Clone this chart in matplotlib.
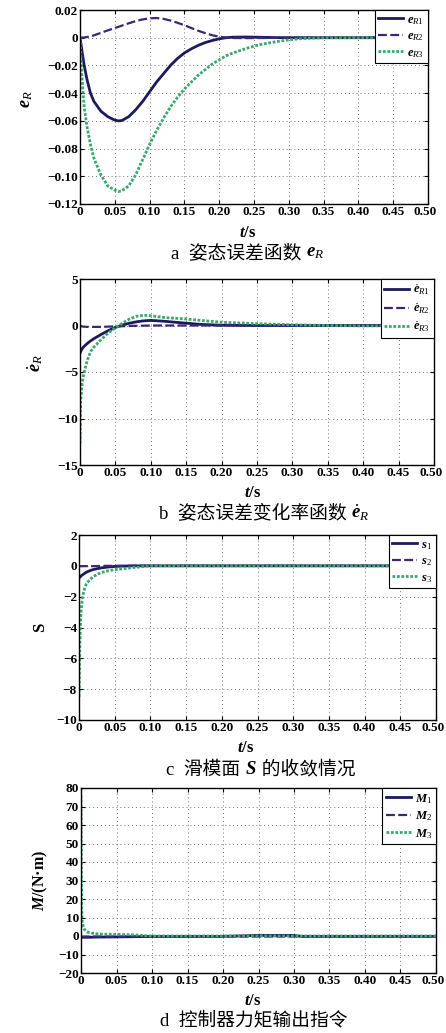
import matplotlib
matplotlib.use('Agg')
import matplotlib.pyplot as plt
from matplotlib.ticker import FixedLocator, FuncFormatter
from matplotlib.transforms import ScaledTranslation

plt.rcParams['font.family'] = ['Liberation Serif', 'Noto Sans CJK SC']
plt.rcParams['mathtext.fontset'] = 'custom'
plt.rcParams['mathtext.rm'] = 'Liberation Serif'
plt.rcParams['mathtext.it'] = 'Liberation Serif:italic'
plt.rcParams['mathtext.bf'] = 'Liberation Serif:italic:bold'

# ---- data ----
# a: attitude error e_R
t_a = [0, 0.003, 0.006, 0.01, 0.015, 0.02, 0.03, 0.04, 0.05, 0.055, 0.06, 0.07,
       0.08, 0.09, 0.10, 0.11, 0.12, 0.13, 0.14, 0.15, 0.16, 0.17, 0.18, 0.19,
       0.20, 0.21, 0.22, 0.24, 0.26, 0.28, 0.30, 0.32, 0.35, 0.40, 0.45, 0.50]
e_r1 = [0, -0.010, -0.020, -0.030, -0.040, -0.046, -0.053, -0.057, -0.0595, -0.060,
        -0.0598, -0.057, -0.052, -0.046, -0.039, -0.032, -0.026, -0.020, -0.015,
        -0.011, -0.008, -0.0055, -0.0035, -0.002, -0.0008, 0.0, 0.0004, 0.0005,
        0.0003, 0.0001, 0, 0, 0, 0, 0, 0]
e_r2 = [0, 0, 0.0002, 0.0005, 0.001, 0.0017, 0.0035, 0.0053, 0.007, 0.0078, 0.0087,
        0.0104, 0.0120, 0.0132, 0.0140, 0.0142, 0.0136, 0.0124, 0.0108, 0.0090,
        0.0070, 0.0050, 0.0033, 0.0018, 0.0007, 0.0001, -0.0002, -0.0003, -0.0002,
        -0.0001, 0, 0, 0, 0, 0, 0]
e_r3 = [0, -0.030, -0.050, -0.064, -0.077, -0.087, -0.099, -0.107, -0.110, -0.111,
        -0.1105, -0.107, -0.099, -0.088, -0.077, -0.067, -0.058, -0.050, -0.043,
        -0.037, -0.032, -0.027, -0.023, -0.019, -0.016, -0.013, -0.011, -0.0075,
        -0.0048, -0.003, -0.0015, -0.0006, 0, 0, 0, 0]

# b: error rate
t_b = [0, 0.001, 0.003, 0.005, 0.01, 0.015, 0.02, 0.03, 0.04, 0.05, 0.06, 0.07,
       0.08, 0.09, 0.10, 0.11, 0.12, 0.13, 0.15, 0.17, 0.20, 0.25, 0.30, 0.35,
       0.40, 0.45, 0.50]
de_r1 = [-3.0, -2.8, -2.5, -2.3, -1.95, -1.65, -1.4, -0.95, -0.55, -0.2, 0.05, 0.25,
         0.4, 0.5, 0.55, 0.5, 0.45, 0.38, 0.25, 0.12, 0.03, 0, 0, 0, 0, 0, 0]
de_r2 = [0, -0.05, -0.1, -0.12, -0.15, -0.15, -0.15, -0.15, -0.12, -0.1, -0.08,
         -0.05, -0.03, -0.02, 0, 0, 0, 0, 0, 0, 0, 0, 0, 0, 0, 0, 0]
de_r3 = [-12.7, -8.0, -6.3, -5.3, -3.8, -2.8, -2.3, -1.5, -0.8, -0.25, 0.25, 0.7,
         1.0, 1.1, 1.05, 0.95, 0.85, 0.8, 0.7, 0.55, 0.35, 0.2, 0.08, 0.0, -0.05,
         -0.03, 0.0]

# c: sliding surface
t_c = [0, 0.001, 0.002, 0.003, 0.005, 0.0075, 0.01, 0.015, 0.02, 0.03, 0.04, 0.05,
       0.06, 0.075, 0.09, 0.10, 0.20, 0.30, 0.40, 0.50]
s1 = [-0.8, -0.75, -0.7, -0.65, -0.58, -0.5, -0.42, -0.32, -0.24, -0.14, -0.08,
      -0.04, -0.02, 0, 0, 0, 0, 0, 0, 0]
s2 = [0, -0.02, -0.02, -0.02, -0.02, -0.02, -0.02, -0.02, -0.02, -0.01, 0, 0, 0,
      0, 0, 0, 0, 0, 0, 0]
s3 = [-8.5, -5.5, -3.8, -2.9, -2.0, -1.5, -1.2, -0.9, -0.7, -0.45, -0.33, -0.25,
      -0.2, -0.12, -0.05, 0, 0, 0, 0, 0]

# d: control torque
t_d = [0, 0.0005, 0.001, 0.0015, 0.002, 0.003, 0.005, 0.0075, 0.01, 0.015, 0.02,
       0.03, 0.05, 0.07, 0.08, 0.09, 0.10, 0.20, 0.25, 0.27, 0.30, 0.31, 0.40, 0.50]
m1 = [-0.5, -0.6, -0.7, -0.7, -0.7, -0.7, -0.7, -0.7, -0.7, -0.65, -0.6, -0.55,
      -0.5, -0.4, -0.35, -0.3, -0.3, -0.2, 0.3, 0.3, 0.3, -0.2, -0.2, -0.2]
m2 = [0, -0.2, -0.3, -0.3, -0.3, -0.3, -0.3, -0.3, -0.3, -0.3, -0.3, -0.3, -0.3,
      -0.3, -0.3, -0.3, -0.3, -0.3, -0.3, -0.3, -0.3, -0.3, -0.3, -0.3]
m3 = [76, 40, 15, 9, 7, 5.5, 3.5, 2.5, 2.0, 1.6, 1.3, 1.0, 0.9, 0.7, 0.5, 0.2, 0,
      0, 0, 0, 0, 0, 0, 0]

x_ticks = [0, 0.05, 0.10, 0.15, 0.20, 0.25, 0.30, 0.35, 0.40, 0.45, 0.50]
y_ticks_a = [-0.12, -0.10, -0.08, -0.06, -0.04, -0.02, 0, 0.02]
y_ticks_b = [-15, -10, -5, 0, 5]
y_ticks_c = [-10, -8, -6, -4, -2, 0, 2]
y_ticks_d = [-20, -10, 0, 10, 20, 30, 40, 50, 60, 70, 80]

labels_a = [r'$\mathbf{e}_{R1}$', r'$\mathbf{e}_{R2}$', r'$\mathbf{e}_{R3}$']
labels_b = [r'$\dot{\mathbf{e}}_{R1}$', r'$\dot{\mathbf{e}}_{R2}$', r'$\dot{\mathbf{e}}_{R3}$']
labels_c = [r'$\mathbf{s}_1$', r'$\mathbf{s}_2$', r'$\mathbf{s}_3$']
labels_d = [r'$\mathbf{M}_1$', r'$\mathbf{M}_2$', r'$\mathbf{M}_3$']

captions = [('a  姿态误差函数 ', r'$\mathbf{e}_R$'),
            ('b  姿态误差变化率函数 ', r'$\dot{\mathbf{e}}_R$'),
            ('c  滑模面 ', r'$\mathbf{S}$', ' 的收敛情况'),
            ('d  控制器力矩输出指令',)]

NAVY = '#1c1a5c'
PURPLE = '#3a2775'
GREEN = '#3aa86b'

W, H = 446, 1033


def fmt_num(v, pos, dec):
    if abs(v) < 1e-12:
        return '0'
    s = f'{abs(v):.{dec}f}'
    return ('\u2212' + s) if v < 0 else s


def style_axes(fig, ax, yticks, ydec):
    ax.set_xlim(0, 0.5)
    ax.set_ylim(yticks[0], yticks[-1])
    ax.xaxis.set_major_locator(FixedLocator(x_ticks))
    ax.yaxis.set_major_locator(FixedLocator(yticks))
    ax.xaxis.set_major_formatter(FuncFormatter(lambda v, p: fmt_num(v, p, 2)))
    ax.yaxis.set_major_formatter(FuncFormatter(lambda v, p: fmt_num(v, p, ydec)))
    ax.tick_params(direction='in', top=True, right=True, length=3, width=0.8,
                   labelsize=9.5, pad=1.5)
    for lab in ax.get_xticklabels() + ax.get_yticklabels():
        lab.set_fontweight('bold')
    # keep the last x label inside the figure
    last = ax.get_xticklabels()[-1]
    last.set_transform(last.get_transform()
                       + ScaledTranslation(-3 / 100, 0, fig.dpi_scale_trans))
    ax.grid(True, color='0.45', ls=(0, (1, 3)), lw=0.7)
    for sp in ax.spines.values():
        sp.set_linewidth(1.0)


def draw(ax, t, ys, labels):
    ax.plot(t, ys[0], color=NAVY, lw=2.0, ls='-', label=labels[0])
    ax.plot(t, ys[1], color=PURPLE, lw=1.6, ls=(0, (4, 1.5)), label=labels[1])
    ax.plot(t, ys[2], color=GREEN, lw=2.0, ls=(0, (1, 0.6)), label=labels[2])
    leg = ax.legend(loc='upper right', borderaxespad=0, fancybox=False,
                    framealpha=1, edgecolor='black', fontsize=9,
                    handlelength=2.0, handletextpad=0.3, labelspacing=0.3,
                    borderpad=0.3)
    leg.get_frame().set_linewidth(0.8)


def ax_rect(left, right, top, bottom):
    return [left / W, (H - bottom) / H, (right - left) / W, (bottom - top) / H]


def caption(fig, xc, yp, parts):
    # lay text pieces side by side so the Chinese part keeps its font fallback
    rend = fig.canvas.get_renderer()
    texts = []
    for p in parts:
        texts.append(fig.text(0, 1 - yp / H, p, ha='left', va='center',
                              fontsize=13.5))
    widths = [t.get_window_extent(rend).width for t in texts]
    x = xc - sum(widths) / 2
    for t, w in zip(texts, widths):
        t.set_x(x / W)
        x += w


fig = plt.figure(figsize=(W / 100, H / 100), dpi=100)

ax_a = fig.add_axes(ax_rect(80, 428, 10, 204))
draw(ax_a, t_a, [e_r1, e_r2, e_r3], labels_a)
style_axes(fig, ax_a, y_ticks_a, 2)
ax_a.set_ylabel(r'$\mathbf{e}_R$', fontsize=13)
ax_a.yaxis.set_label_coords(-0.13, 0.54)

ax_b = fig.add_axes(ax_rect(80, 434, 279, 465))
draw(ax_b, t_b, [de_r1, de_r2, de_r3], labels_b)
style_axes(fig, ax_b, y_ticks_b, 0)
ax_b.set_ylabel(r'$\dot{\mathbf{e}}_R$', fontsize=13)
ax_b.yaxis.set_label_coords(-0.10, 0.55)

ax_c = fig.add_axes(ax_rect(79, 436, 535, 720))
draw(ax_c, t_c, [s1, s2, s3], labels_c)
style_axes(fig, ax_c, y_ticks_c, 0)
ax_c.set_ylabel('S', fontsize=12, fontweight='bold')
ax_c.yaxis.set_label_coords(-0.087, 0.5)

ax_d = fig.add_axes(ax_rect(81, 436, 788, 973))
draw(ax_d, t_d, [m1, m2, m3], labels_d)
style_axes(fig, ax_d, y_ticks_d, 0)
ax_d.set_ylabel(r'$\mathbf{M}$/(N·m)', fontsize=11.5, fontweight='bold')
ax_d.yaxis.set_label_coords(-0.087, 0.5)

# x labels and captions
xl_x = [248, 253, 246, 253]
xl_y = [233, 493, 748, 1001]
cap_x = [248, 264, 261, 254]
cap_y = [253, 513, 770, 1020]
for xx, yy in zip(xl_x, xl_y):
    fig.text(xx / W, 1 - yy / H, r'$\mathbf{t}$/s', ha='center', va='center',
             fontsize=12, fontweight='bold')
for xx, yy, parts in zip(cap_x, cap_y, captions):
    caption(fig, xx, yy, parts)

fig.savefig('out.png', dpi=100)
